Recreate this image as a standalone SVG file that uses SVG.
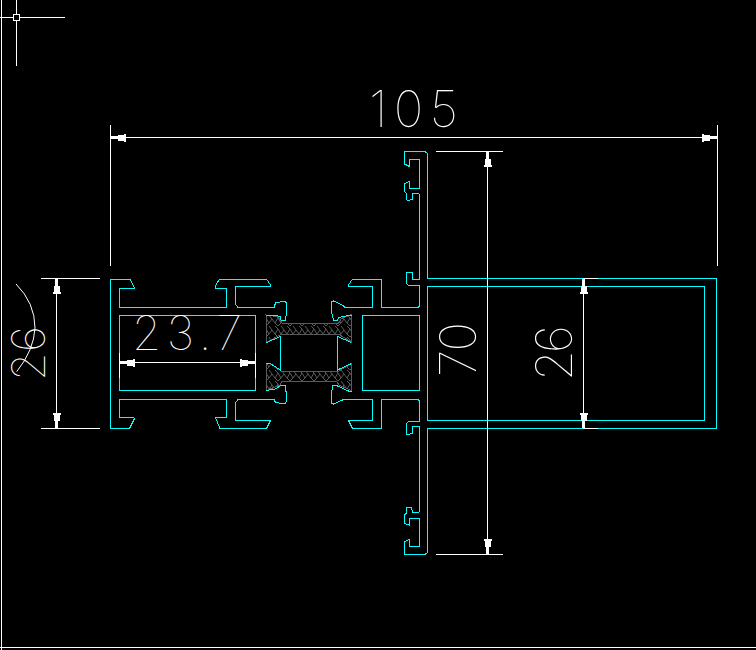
<svg xmlns="http://www.w3.org/2000/svg" width="756" height="650" viewBox="0 0 756 650">
<style>
.c{fill:none;stroke:#0ff;stroke-width:1;shape-rendering:crispEdges}
.w{fill:none;stroke:#fff;stroke-width:1;shape-rendering:crispEdges}
.d{fill:none;stroke:#fff;stroke-width:1;marker-start:url(#a);marker-end:url(#a);shape-rendering:crispEdges}
.h{fill:url(#z);stroke:#5a5a5a;stroke-width:1;shape-rendering:crispEdges}
.t{font-family:"Inter","Liberation Sans",sans-serif;font-weight:140;fill:#fff;font-size:50px}
</style>
<defs>
<marker id="a" markerUnits="userSpaceOnUse" markerWidth="16" markerHeight="10" refX="16" refY="5" orient="auto-start-reverse" viewBox="0 0 16 10">
<path d="M16 3.500H9V2H3V1H1V9H3V8H9V6.500H16Z" fill="#fff" shape-rendering="crispEdges"/>
</marker>
<pattern id="z" patternUnits="userSpaceOnUse" x="266" y="315" width="12" height="11">
<path d="M0 3L3 8L6 4L9 8L12 3M3 0L6 4M9 0L12 3M0 11L3 8M12 11L9 8" fill="none" stroke="#5a5a5a" stroke-width="1"/>
</pattern>
</defs>
<rect width="756" height="650" fill="#000"/>
<g id="frame">
<path class="w" d="M1.500 0V650M0 647.500H756M16.500 0V14M16.500 21V66M0 17.500H14M19 17.500H65"/>
<rect class="w" x="13.500" y="14.500" width="6" height="6"/>
</g>
<g id="thermal-break">
<path class="h" d="M266 315L278 316.700L282.300 323.500H338.300L341.700 318.300L351.700 314.500V342.300L338.300 334H281.700L266.700 342.300Z"/>
<path class="h" d="M266 363.500H270L282.300 371.700H337.500L351.700 363.500V390.700L339 385L337 381.700H282L280 385L266 390.700Z"/>
</g>
<g id="profile">
<path class="c" d="M110.500 279V428.500H129.500L134.500 418.500L133 417.500H119.500V399.500H226.500V417.500H215.500L220 428.500H266.500L270.500 420.500H235.500V402.500L238 399.500H274L275.500 402.500L285 404L286.500 401.500V394.500L285 385.500H281L275 389L266 390.500"/>
<path class="c" d="M110.500 279H130L134.500 288L132.500 288.500H119.500V307.500H226.500V288.500H215.500V286L219.500 279H266.500L270.500 285V286.500H235.500V304L238 307.500H274L275.500 303L285 301L286.500 303V311.500L285.500 320H281L280 316.500L275 315H266"/>
<rect class="c" x="119.500" y="315.500" width="136" height="75"/>
<rect class="c" x="362.500" y="315.500" width="57" height="75"/>
<path class="c" d="M266.500 342.500L280.500 336.500V370L270 363.500H266M337.500 336.500V370L351.500 363.500M337.500 336.500L351.500 342.500"/>
<path class="c" d="M351.500 315L338.500 317.500L337.500 320H333.500L331.500 311.500V301.500L333.500 301L343.500 305.500L344.500 307.500H372.500V286.500H348.500V285L352.500 279H381.500V307.500H418L419.500 306V285.500H408.500L406.500 283.500V272.500H412.500V279.500H419.500V195L418.500 193.500H412.500V199.500L407.500 200.500L406.500 199.500V193.500L404.500 191.500V183.500L409.500 181.500V188.500H419.500V159.500H409.500V166H408.500L404.500 164V151.500H425L427.500 153.500V278.500H716.500V428.500H427.500V552.500L425 554.500H407L404.500 554.500V541.500L409.500 539.500V546.500H419.500V518.500H409.500V525L404.500 523.500V515L406.500 513V507H411.500L412.500 512.500H418.500L419.500 511V426.500H412.500V433.500L407 434.500L406.500 434V423.500L408.500 421.500H419.500V401L418 399.500H381.500V428.500H352.500L348.500 420.500H372.500V399.500H344.500L342.500 400L333.500 404L331.500 403.500V394.500L332.500 385.500H336.500L348.500 391H351.500"/>
<path class="c" d="M427.500 286.500H704.500V420.500H427.500Z"/>
</g>
<g id="dimensions">
<path class="w" d="M110.500 125V266M717.500 125V266M41 278.500H100M41 428.500H100M436 151.500H503M436 554.500H503M583 278.500H598M583 428.500H598M119.500 353V378M255.500 353V378"/>
<path class="d" d="M110.500 137.500H717"/>
<path class="d" d="M56.500 279V428"/>
<path class="d" d="M120 362.500H255"/>
<path class="d" d="M487.500 152V554"/>
<path class="d" d="M583.500 279V428"/>
<path d="M16 284Q35 303 35 328Q34 350 16.700 371.700" fill="none" stroke="#fff" stroke-width="1"/>
<text class="t" x="369" y="127" textLength="89">105</text>
<text class="t" x="132" y="350" textLength="110" style="font-size:47px">23.7</text>
<text class="t" transform="translate(45 381) rotate(-90)" textLength="55" style="font-size:46px">26</text>
<text class="t" transform="translate(476 377) rotate(-90)" textLength="55">70</text>
<text class="t" transform="translate(572 381) rotate(-90)" textLength="56">26</text>
</g>
</svg>
